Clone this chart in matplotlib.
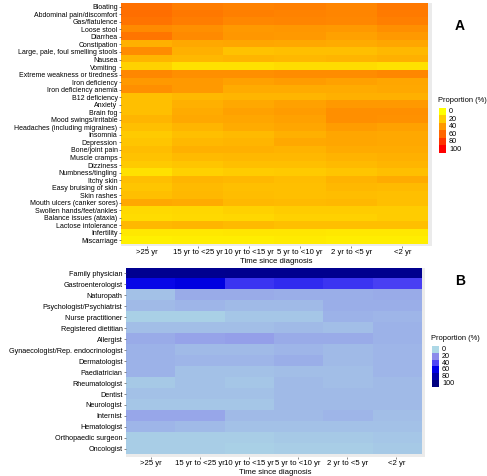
import matplotlib
matplotlib.use('Agg')
import matplotlib.pyplot as plt
from matplotlib.colors import LinearSegmentedColormap
import numpy as np

plt.rcParams['font.family'] = ['Liberation Sans', 'DejaVu Sans']

# Time-since-diagnosis groups (columns)
time_groups = ['>25 yr', '15 yr to <25 yr', '10 yr to <15 yr', '5 yr to <10 yr', '2 yr to <5 yr', '<2 yr']

# Panel A - symptoms
symptoms = ['Bloating', 'Abdominal pain/discomfort', 'Gas/flatulence', 'Loose stool', 'Diarrhea',
            'Constipation', 'Large, pale, foul smelling stools', 'Nausea', 'Vomiting',
            'Extreme weakness or tiredness', 'Iron deficiency', 'Iron deficiency anemia',
            'B12 deficiency', 'Anxiety', 'Brain fog', 'Mood swings/irritable',
            'Headaches (including migraines)', 'Insomnia', 'Depression', 'Bone/joint pain',
            'Muscle cramps', 'Dizziness', 'Numbness/tingling', 'Itchy skin', 'Easy bruising of skin',
            'Skin rashes', 'Mouth ulcers (canker sores)', 'Swollen hands/feet/ankles',
            'Balance issues (ataxia)', 'Lactose intolerance', 'Infertility', 'Miscarriage']
symptom_pct = [
    [56, 51, 49, 50, 48, 53],
    [57, 53, 50, 49, 48, 52],
    [55, 51, 47, 48, 47, 50],
    [46, 44, 40, 41, 40, 44],
    [54, 46, 41, 40, 37, 40],
    [31, 34, 35, 34, 33, 35],
    [45, 31, 24, 25, 25, 28],
    [29, 28, 29, 28, 29, 31],
    [18, 12, 12, 14, 14, 12],
    [47, 44, 44, 45, 45, 47],
    [40, 40, 37, 39, 37, 35],
    [44, 40, 33, 33, 33, 34],
    [25, 28, 29, 29, 31, 31],
    [25, 31, 34, 37, 40, 40],
    [25, 33, 37, 39, 44, 44],
    [29, 34, 35, 37, 44, 43],
    [25, 29, 33, 35, 39, 37],
    [21, 25, 27, 31, 35, 34],
    [23, 28, 29, 34, 35, 34],
    [26, 31, 31, 30, 33, 33],
    [24, 27, 28, 28, 30, 31],
    [21, 23, 25, 25, 27, 29],
    [12, 18, 20, 21, 23, 25],
    [25, 29, 28, 26, 30, 33],
    [23, 27, 25, 25, 28, 27],
    [25, 28, 26, 25, 26, 25],
    [34, 33, 28, 27, 28, 25],
    [15, 16, 18, 20, 20, 20],
    [14, 15, 16, 18, 18, 20],
    [28, 29, 27, 25, 25, 25],
    [9, 9, 10, 10, 9, 9],
    [6, 7, 7, 8, 7, 7],
]

# Panel B - health professionals consulted
providers = ['Family physician', 'Gastroenterologist', 'Naturopath', 'Psychologist/Psychiatrist',
             'Nurse practitioner', 'Registered dietitian', 'Allergist',
             'Gynaecologist/Rep. endocrinologist', 'Dermatologist', 'Paediatrician',
             'Rheumatologist', 'Dentist', 'Neurologist', 'Internist', 'Hematologist',
             'Orthopaedic surgeon', 'Oncologist']
provider_pct = [
    [92, 92, 93, 93, 93, 93],
    [58, 62, 45, 48, 45, 42],
    [6, 12, 12, 11, 11, 12],
    [8, 9, 8, 8, 11, 11],
    [2, 2, 5, 5, 10, 9],
    [7, 7, 7, 8, 7, 10],
    [12, 14, 15, 12, 12, 10],
    [10, 8, 8, 9, 8, 9],
    [10, 9, 9, 11, 8, 9],
    [10, 6, 6, 7, 7, 9],
    [4, 6, 5, 8, 7, 8],
    [6, 6, 6, 8, 8, 8],
    [5, 5, 5, 8, 8, 8],
    [13, 13, 8, 8, 9, 7],
    [9, 8, 6, 6, 6, 6],
    [3, 3, 3, 4, 4, 5],
    [3, 3, 2, 3, 3, 4],
]

legend_vals = [0, 20, 40, 60, 80, 100]

cmap_a = LinearSegmentedColormap.from_list('yr', ['#FFFF00', '#FF8000', '#FF0000'])
cmap_b = LinearSegmentedColormap.from_list('bl', [(0, '#ADD8E6'), (0.2, '#8C8CEB'), (0.4, '#5046F5'),
                                                  (0.6, '#0000E6'), (0.8, '#0000AA'), (1.0, '#000080')])

W, H = 487, 476
fig = plt.figure(figsize=(W / 100, H / 100), dpi=100)


def px_axes(left, top, right, bottom):
    return fig.add_axes([left / W, 1 - bottom / H, (right - left) / W, (bottom - top) / H])


def heat(ax, data, rows, cmap, ysize):
    data = np.array(data)
    ax.set_facecolor('#EBEBEB')
    ax.imshow(data, cmap=cmap, vmin=0, vmax=100, aspect='auto', interpolation='nearest')
    ax.set_xlim(-0.5, 5.58)
    ax.set_ylim(len(rows) - 0.5 + 0.25, -0.5)
    ax.set_xticks(range(len(time_groups)))
    ax.set_xticklabels(time_groups, fontsize=5.6)
    ax.set_yticks(range(len(rows)))
    ax.set_yticklabels(rows, fontsize=ysize)
    ax.tick_params(length=1.5, width=0.5, color='#555555', pad=1)
    for s in ax.spines.values():
        s.set_visible(False)
    ax.set_xlabel('Time since diagnosis', fontsize=5.6, labelpad=1)


def legend(left, top, cmap, h):
    lax = px_axes(left, top, left + 7, top + h)
    lax.imshow(np.array(legend_vals).reshape(-1, 1), cmap=cmap, vmin=0, vmax=100,
               aspect='auto', interpolation='nearest')
    lax.set_xticks([])
    lax.set_yticks([])
    for s in lax.spines.values():
        s.set_visible(False)
    for i, v in enumerate(legend_vals):
        fig.text((left + 10) / W, 1 - (top + h * (i + 0.5) / 6) / H, str(v),
                 fontsize=5.2, va='center', ha='left')
    fig.text((left - 1) / W, 1 - (top - 7) / H, 'Proportion (%)', fontsize=5.4, va='center', ha='left')


ax1 = px_axes(121, 3, 432, 246)
heat(ax1, symptom_pct, symptoms, cmap_a, 5.0)
ax2 = px_axes(126, 268, 425, 457)
heat(ax2, provider_pct, providers, cmap_b, 5.2)

legend(439, 108, cmap_a, 45)
legend(432, 346, cmap_b, 41)

fig.text(460 / W, 1 - 26 / H, 'A', fontsize=10, fontweight='bold', ha='center', va='center')
fig.text(460 / W, 1 - 281 / H, 'B', fontsize=10, fontweight='bold', ha='center', va='center')

fig.savefig('out.png', dpi=100)
